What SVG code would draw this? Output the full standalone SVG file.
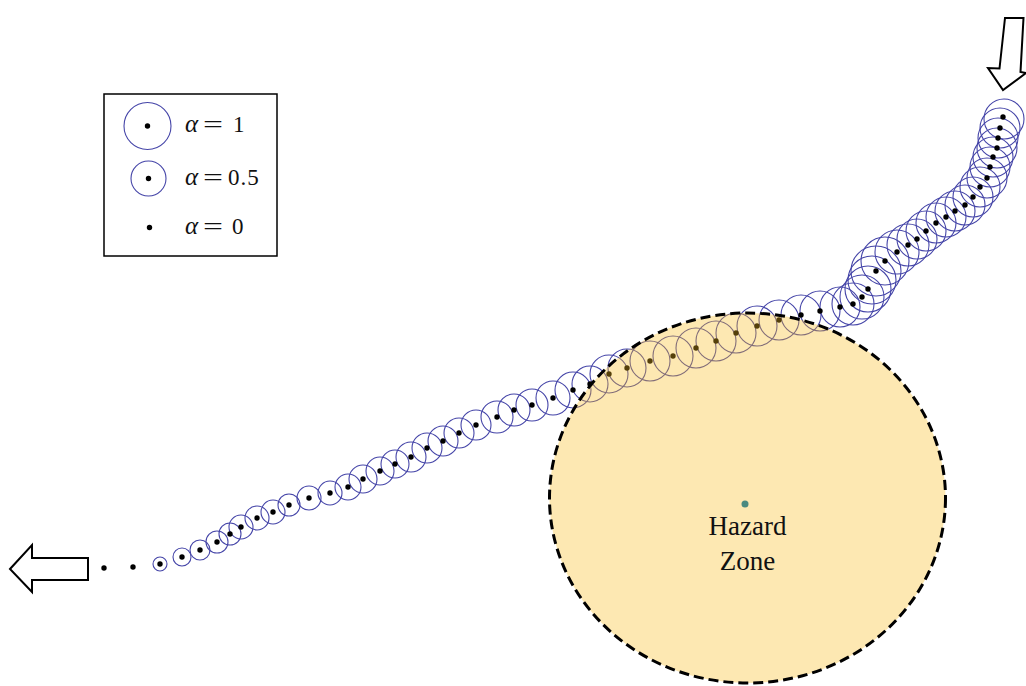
<svg xmlns="http://www.w3.org/2000/svg" width="1026" height="686" viewBox="0 0 1026 686">
<style>
.c{fill:none;stroke:#4545a8;stroke-width:1.1}
.d{fill:#000}
.t{font-family:"Liberation Serif","Times New Roman",serif;fill:#111}
.ar{fill:#fff;stroke:#000;stroke-width:2;stroke-linejoin:miter}
</style>
<rect width="1026" height="686" fill="#fff"/>
<g id="trajectory">
<g class="circles">
<circle class="c" cx="160" cy="564" r="7"/>
<circle class="c" cx="182" cy="557" r="9"/>
<circle class="c" cx="200" cy="550" r="10"/>
<circle class="c" cx="217" cy="542" r="11"/>
<circle class="c" cx="230" cy="534" r="11"/>
<circle class="c" cx="241" cy="527" r="12"/>
<circle class="c" cx="257" cy="518" r="12"/>
<circle class="c" cx="273" cy="512" r="12"/>
<circle class="c" cx="289" cy="505" r="11"/>
<circle class="c" cx="309" cy="498" r="12"/>
<circle class="c" cx="330" cy="493" r="12"/>
<circle class="c" cx="348" cy="487" r="13"/>
<circle class="c" cx="363" cy="479" r="14"/>
<circle class="c" cx="380" cy="471" r="14"/>
<circle class="c" cx="395" cy="464" r="14"/>
<circle class="c" cx="411" cy="457" r="15"/>
<circle class="c" cx="427" cy="448" r="15"/>
<circle class="c" cx="443" cy="441" r="15"/>
<circle class="c" cx="459" cy="433" r="15"/>
<circle class="c" cx="476" cy="425" r="15"/>
<circle class="c" cx="497" cy="417" r="16"/>
<circle class="c" cx="514" cy="410" r="16"/>
<circle class="c" cx="532" cy="405" r="16"/>
<circle class="c" cx="553" cy="398" r="17"/>
<circle class="c" cx="573" cy="390" r="18"/>
<circle class="c" cx="590" cy="384" r="18"/>
<circle class="c" cx="609" cy="374" r="19"/>
<circle class="c" cx="627" cy="368" r="19"/>
<circle class="c" cx="650" cy="361" r="20"/>
<circle class="c" cx="673" cy="356" r="20"/>
<circle class="c" cx="696" cy="348" r="20"/>
<circle class="c" cx="716" cy="341" r="20"/>
<circle class="c" cx="736" cy="333" r="20"/>
<circle class="c" cx="757" cy="326" r="20"/>
<circle class="c" cx="779" cy="320" r="20"/>
<circle class="c" cx="801" cy="315" r="20"/>
<circle class="c" cx="820" cy="311" r="20"/>
<circle class="c" cx="840" cy="307" r="20"/>
<circle class="c" cx="853" cy="304" r="21"/>
<circle class="c" cx="862" cy="297" r="22"/>
<circle class="c" cx="868" cy="289" r="23"/>
<circle class="c" cx="872" cy="280" r="24"/>
<circle class="c" cx="876" cy="271" r="25"/>
<circle class="c" cx="885" cy="261" r="24"/>
<circle class="c" cx="897" cy="252" r="22"/>
<circle class="c" cx="908" cy="245" r="21"/>
<circle class="c" cx="917" cy="239" r="20"/>
<circle class="c" cx="926" cy="231" r="20"/>
<circle class="c" cx="936" cy="223" r="20"/>
<circle class="c" cx="946" cy="217" r="20"/>
<circle class="c" cx="955" cy="211" r="20"/>
<circle class="c" cx="965" cy="205" r="20"/>
<circle class="c" cx="973" cy="197" r="20"/>
<circle class="c" cx="980" cy="187" r="20"/>
<circle class="c" cx="987" cy="178" r="20"/>
<circle class="c" cx="990" cy="167" r="20"/>
<circle class="c" cx="993" cy="157" r="20"/>
<circle class="c" cx="997" cy="148" r="20"/>
<circle class="c" cx="998" cy="138" r="20"/>
<circle class="c" cx="1000" cy="128" r="20"/>
<circle class="c" cx="1004" cy="119" r="20"/>
</g>
<g class="dots">
<circle class="d" cx="104" cy="568" r="2.7"/>
<circle class="d" cx="133" cy="567" r="2.7"/>
<circle class="d" cx="160" cy="564" r="2.7"/>
<circle class="d" cx="182" cy="557" r="2.7"/>
<circle class="d" cx="200" cy="550" r="2.7"/>
<circle class="d" cx="217" cy="542" r="2.7"/>
<circle class="d" cx="230" cy="534" r="2.7"/>
<circle class="d" cx="241" cy="527" r="2.7"/>
<circle class="d" cx="257" cy="518" r="2.7"/>
<circle class="d" cx="273" cy="512" r="2.7"/>
<circle class="d" cx="289" cy="505" r="2.7"/>
<circle class="d" cx="309" cy="498" r="2.7"/>
<circle class="d" cx="330" cy="493" r="2.7"/>
<circle class="d" cx="348" cy="487" r="2.7"/>
<circle class="d" cx="363" cy="479" r="2.7"/>
<circle class="d" cx="380" cy="471" r="2.7"/>
<circle class="d" cx="395" cy="464" r="2.7"/>
<circle class="d" cx="411" cy="457" r="2.7"/>
<circle class="d" cx="427" cy="448" r="2.7"/>
<circle class="d" cx="443" cy="441" r="2.7"/>
<circle class="d" cx="459" cy="433" r="2.7"/>
<circle class="d" cx="476" cy="425" r="2.7"/>
<circle class="d" cx="497" cy="417" r="2.7"/>
<circle class="d" cx="514" cy="410" r="2.7"/>
<circle class="d" cx="532" cy="405" r="2.7"/>
<circle class="d" cx="553" cy="398" r="2.7"/>
<circle class="d" cx="573" cy="390" r="2.7"/>
<circle class="d" cx="590" cy="384" r="2.7"/>
<circle class="d" cx="609" cy="374" r="2.7"/>
<circle class="d" cx="627" cy="368" r="2.7"/>
<circle class="d" cx="650" cy="361" r="2.7"/>
<circle class="d" cx="673" cy="356" r="2.7"/>
<circle class="d" cx="696" cy="348" r="2.7"/>
<circle class="d" cx="716" cy="341" r="2.7"/>
<circle class="d" cx="736" cy="333" r="2.7"/>
<circle class="d" cx="757" cy="326" r="2.7"/>
<circle class="d" cx="779" cy="320" r="2.7"/>
<circle class="d" cx="801" cy="315" r="2.7"/>
<circle class="d" cx="820" cy="311" r="2.7"/>
<circle class="d" cx="840" cy="307" r="2.7"/>
<circle class="d" cx="853" cy="304" r="2.7"/>
<circle class="d" cx="862" cy="297" r="2.7"/>
<circle class="d" cx="868" cy="289" r="2.7"/>
<circle class="d" cx="876" cy="271" r="2.7"/>
<circle class="d" cx="885" cy="261" r="2.7"/>
<circle class="d" cx="897" cy="252" r="2.7"/>
<circle class="d" cx="908" cy="245" r="2.7"/>
<circle class="d" cx="917" cy="239" r="2.7"/>
<circle class="d" cx="926" cy="231" r="2.7"/>
<circle class="d" cx="936" cy="223" r="2.7"/>
<circle class="d" cx="946" cy="217" r="2.7"/>
<circle class="d" cx="955" cy="211" r="2.7"/>
<circle class="d" cx="965" cy="205" r="2.7"/>
<circle class="d" cx="973" cy="197" r="2.7"/>
<circle class="d" cx="980" cy="187" r="2.7"/>
<circle class="d" cx="987" cy="178" r="2.7"/>
<circle class="d" cx="990" cy="167" r="2.7"/>
<circle class="d" cx="993" cy="157" r="2.7"/>
<circle class="d" cx="997" cy="148" r="2.7"/>
<circle class="d" cx="998" cy="138" r="2.7"/>
<circle class="d" cx="1000" cy="128" r="2.7"/>
<circle class="d" cx="1003" cy="117" r="2.7"/>
</g>
</g>
<g id="hazard-zone">
<ellipse cx="747.5" cy="498" rx="198" ry="185" fill="#f8bd1c" fill-opacity="0.34"/>
<ellipse cx="747.5" cy="498" rx="198" ry="185" fill="none" stroke="#000" stroke-width="3" stroke-dasharray="10 5"/>
<circle cx="745" cy="504" r="3.5" fill="#4a8a80"/>
<text class="t" x="747.5" y="535" font-size="27" text-anchor="middle">Hazard</text>
<text class="t" x="747.5" y="570" font-size="27" text-anchor="middle">Zone</text>
</g>
<g id="entry-arrow">
<polygon class="ar" points="1005,18 999.5,68.5 988,68 1003,90 1026,73 1020.5,72 1023.5,18"/>
</g>
<g id="exit-arrow">
<polygon class="ar" points="10,569 32,545 32,558 88,558 88,580 32,580 32,592"/>
</g>
<g id="legend">
<rect x="104" y="94" width="173" height="162" fill="#fff" stroke="#000" stroke-width="1.5"/>
<circle class="c" cx="147.5" cy="126" r="23.5"/>
<circle class="d" cx="147.5" cy="126" r="2.7"/>
<circle class="c" cx="148.5" cy="178.5" r="17.5"/>
<circle class="d" cx="148.5" cy="178.5" r="2.7"/>
<circle class="d" cx="149.5" cy="227.5" r="2.7"/>
<text class="t" x="185" y="132" font-size="25" font-style="italic">α</text>
<text class="t" x="203" y="133" font-size="25" textLength="20" lengthAdjust="spacingAndGlyphs">=</text>
<text class="t" x="233" y="132" font-size="23">1</text>
<text class="t" x="185" y="185" font-size="25" font-style="italic">α</text>
<text class="t" x="203" y="186" font-size="25" textLength="20" lengthAdjust="spacingAndGlyphs">=</text>
<text class="t" x="228" y="185" font-size="23" letter-spacing="1">0.5</text>
<text class="t" x="185" y="234" font-size="25" font-style="italic">α</text>
<text class="t" x="203" y="235" font-size="25" textLength="20" lengthAdjust="spacingAndGlyphs">=</text>
<text class="t" x="232" y="234" font-size="23">0</text>
</g>
</svg>
